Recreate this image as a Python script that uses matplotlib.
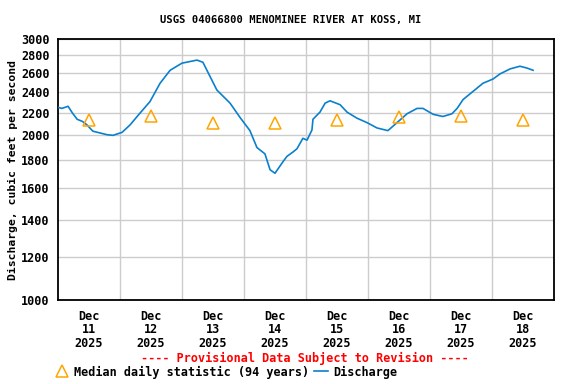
import matplotlib
matplotlib.use("Agg")
import matplotlib.pyplot as plt
from matplotlib.ticker import FixedLocator, NullFormatter, FixedFormatter
from matplotlib.lines import Line2D

# Discharge (hours since Dec 11 2025 00:00, cfs)
hours = [0, 1.5, 3.9, 5.5, 7.4, 9.5, 11.2, 13.5, 16.3, 19, 21.3, 24.8, 27.9, 31.7,
         35.6, 39.5, 43.4, 48, 53.8, 56.1, 58.8, 61.5, 66.6, 70.5, 74.3, 77,
         80.1, 82.1, 84, 87.1, 88.6, 91, 92.5, 94.8, 96.4, 98.3, 98.7, 101.4,
         103.4, 105.3, 109.2, 111.9, 115.7, 119.6, 123.5, 127.7, 130.5, 135.1,
         139, 141.3, 145.2, 149, 152.5, 154.5, 156.8, 160.6, 164.5, 168.4,
         171.1, 175, 178.8, 181.5, 183.9]
discharge = [2250, 2240, 2260, 2200, 2140, 2120, 2090, 2035, 2020, 2005, 2000, 2025,
             2090, 2195, 2305, 2490, 2630, 2710, 2745, 2720, 2565, 2420, 2290,
             2155, 2040, 1900, 1850, 1730, 1705, 1790, 1830, 1865, 1890, 1975,
             1960, 2045, 2140, 2205, 2290, 2313, 2275, 2205, 2150, 2110, 2063,
             2040, 2095, 2190, 2240, 2240, 2185, 2165, 2190, 2240, 2325, 2405,
             2490, 2535, 2590, 2645, 2675, 2655, 2630]

# Median daily statistic (noon of each day)
median_hours = [12, 36, 60, 84, 108, 132, 156, 180]
median_values = [2133, 2172, 2105, 2105, 2130, 2158, 2172, 2133]

day_labels = ["Dec\n11\n2025", "Dec\n12\n2025", "Dec\n13\n2025", "Dec\n14\n2025",
              "Dec\n15\n2025", "Dec\n16\n2025", "Dec\n17\n2025", "Dec\n18\n2025"]
y_ticks = [1000, 1200, 1400, 1600, 1800, 2000, 2200, 2400, 2600, 2800, 3000]

font = "DejaVu Sans Mono"
fig = plt.figure(figsize=(5.76, 3.84), dpi=100)
ax = fig.add_axes([58/576, 84/384, 496/576, 261/384])

ax.set_yscale("log")
ax.set_ylim(1000, 3000)
ax.set_xlim(0, 192)

ax.yaxis.set_major_locator(FixedLocator(y_ticks))
ax.yaxis.set_major_formatter(FixedFormatter([str(v) for v in y_ticks]))
ax.yaxis.set_minor_locator(FixedLocator([]))
ax.yaxis.set_minor_formatter(NullFormatter())

ax.set_xticks([24 * i for i in range(1, 8)], minor=True)
ax.set_xticks(median_hours)
ax.set_xticklabels(day_labels)

ax.grid(True, which="minor", axis="x", color="#cccccc", lw=1)
ax.grid(True, which="major", axis="y", color="#cccccc", lw=1)
ax.tick_params(which="both", length=0)
ax.tick_params(axis="y", pad=6)
ax.tick_params(axis="x", pad=7)
for lbl in ax.get_yticklabels() + ax.get_xticklabels():
    lbl.set_fontfamily(font)
    lbl.set_fontweight("bold")
    lbl.set_fontsize(8.5)
for lbl in ax.get_xticklabels():
    lbl.set_linespacing(1.05)

for s in ax.spines.values():
    s.set_linewidth(1.3)
    s.set_color("black")

ax.plot(hours, discharge, color="#0a80cc", lw=1.2, zorder=3)
ax.plot(median_hours, median_values, linestyle="none", marker="^", markersize=8,
        markerfacecolor="none", markeredgecolor="#ffa500", markeredgewidth=1.1, zorder=4)

ax.set_ylabel("Discharge, cubic feet per second", fontfamily=font, fontweight="bold",
              fontsize=8.2, labelpad=2)

fig.text(291/576, 1 - 20/384, "USGS 04066800 MENOMINEE RIVER AT KOSS, MI", ha="center",
         va="center", fontfamily=font, fontweight="bold", fontsize=7.6)
fig.text(305/576, 1 - 358/384, "---- Provisional Data Subject to Revision ----",
         ha="center", va="center", fontfamily=font, fontweight="bold", fontsize=8.5,
         color="red")

handles = [Line2D([], [], linestyle="none", marker="^", markersize=8,
                  markerfacecolor="none", markeredgecolor="#ffa500", markeredgewidth=1.1),
           Line2D([], [], color="#0a80cc", lw=1.2)]
fig.legend(handles, ["Median daily statistic (94 years)", "Discharge"],
           loc="center", bbox_to_anchor=(226/576, 1 - 372/384), ncol=2, frameon=False,
           prop={"family": font, "weight": "bold", "size": 8.5},
           handlelength=1.2, handletextpad=0.4, columnspacing=0.4, borderpad=0)

fig.savefig("out.png", dpi=100)
